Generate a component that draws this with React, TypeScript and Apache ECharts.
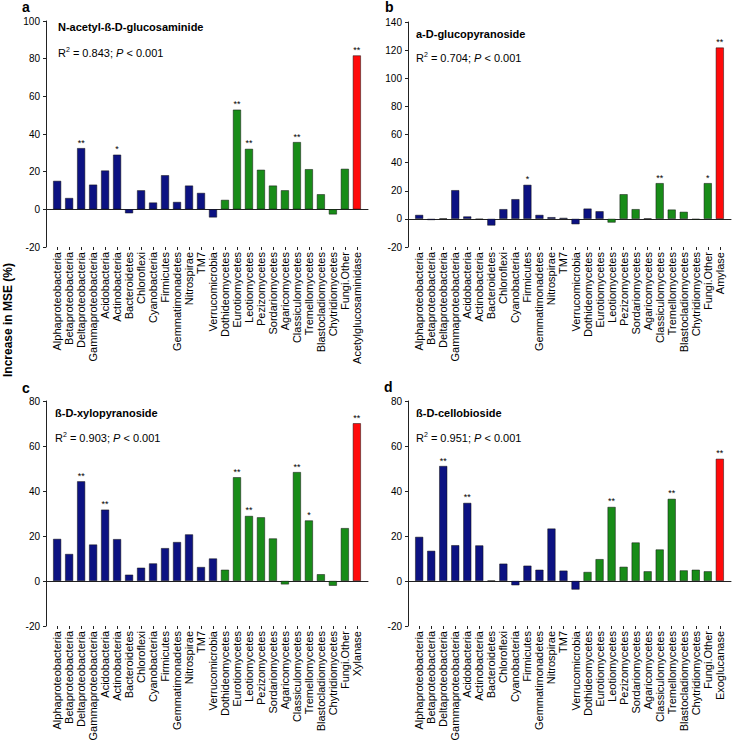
import React, { useEffect, useRef } from 'react';
import * as echarts from 'echarts';

// ---------- data ----------
const taxa = [
  'Alphaproteobacteria', 'Betaproteobacteria', 'Deltaproteobacteria', 'Gammaproteobacteria',
  'Acidobacteria', 'Actinobacteria', 'Bacteroidetes', 'Chloroflexi', 'Cyanobacteria',
  'Firmicutes', 'Gemmatimonadetes', 'Nitrospirae', 'TM7', 'Verrucomicrobia',
  'Dothideomycetes', 'Eurotiomycetes', 'Leotiomycetes', 'Pezizomycetes', 'Sordariomycetes',
  'Agaricomycetes', 'Classiculomycetes', 'Tremellomycetes', 'Blastocladiomycetes',
  'Chytridiomycetes', 'Fungi.Other',
];
const enzymes = ['Acetylglucosaminidase', 'Amylase', 'Xylanase', 'Exoglucanase'];
const substrates = ['N-acetyl-ß-D-glucosaminide', 'a-D-glucopyranoside', 'ß-D-xylopyranoside', 'ß-D-cellobioside'];
const r2Values = ['0.843', '0.704', '0.903', '0.951'];
const panelLetters = ['a', 'b', 'c', 'd'];
const yTicksMin = [-20, -20, -20, -20];
const yTicksMax = [100, 140, 80, 80];

const valuesA = [15.1, 6.0, 32.5, 13.1, 20.6, 29.0, -2.1, 10.1, 3.6, 18.1, 3.9, 12.6, 8.7, -4.3, 5.0, 52.9, 32.1, 21.0, 12.6, 10.1, 35.7, 21.3, 8.0, -2.7, 21.5, 81.7];
const valuesB = [2.8, -0.8, 0.3, 20.4, 1.7, -0.3, -4.7, 6.9, 14.0, 24.2, 2.8, 1.2, 0.7, -3.8, 7.3, 5.4, -2.6, 17.5, 6.9, 0.3, 25.4, 6.6, 5.0, -0.5, 25.4, 121.8];
const valuesC = [18.7, 12.0, 44.3, 16.2, 31.7, 18.6, 2.8, 5.9, 7.8, 14.6, 17.3, 20.7, 6.2, 10.0, 5.0, 46.1, 28.9, 28.3, 18.9, -1.5, 48.4, 26.9, 3.0, -2.1, 23.5, 70.1];
const valuesD = [19.6, 13.4, 51.1, 15.9, 34.7, 15.8, 0.2, 7.7, -1.9, 6.8, 5.0, 23.3, 4.6, -3.8, 4.0, 9.7, 32.9, 6.3, 17.1, 4.3, 14.0, 36.5, 4.7, 5.0, 4.3, 54.3];

const marksA = ['', '', '**', '', '', '*', '', '', '', '', '', '', '', '', '', '**', '**', '', '', '', '**', '', '', '', '', '**'];
const marksB = ['', '', '', '', '', '', '', '', '', '*', '', '', '', '', '', '', '', '', '', '', '**', '', '', '', '*', '**'];
const marksC = ['', '', '**', '', '**', '', '', '', '', '', '', '', '', '', '', '**', '**', '', '', '', '**', '*', '', '', '', '**'];
const marksD = ['', '', '**', '', '**', '', '', '', '', '', '', '', '', '', '', '', '**', '', '', '', '', '**', '', '', '', '**'];

// group of each bar: B = bacteria, F = fungi, E = enzyme
const groupsA = ['B','B','B','B','B','B','B','B','B','B','B','B','B','B','F','F','F','F','F','F','F','F','F','F','F','E'];
const groupsB = ['B','B','B','B','B','B','B','B','B','B','B','B','B','B','B','B','F','F','F','F','F','F','F','F','F','E'];
const groupsC = groupsA;
const groupsD = groupsA;

const groupColors: Record<string, string> = { B: '#0c1282', F: '#188c18', E: '#ff0a0a' };

// ---------- layout ----------
const FONT = '"Liberation Sans", Arial, sans-serif';
const layout = [
  { left: 46, top: 21, height: 226, right: 368, titleTop: 20, r2Top: 46, textLeft: 58, letterX: 22, letterY: 0 },
  { left: 408, top: 22, height: 225, right: 731, titleTop: 27, r2Top: 51, textLeft: 416, letterX: 385, letterY: 0 },
  { left: 46, top: 401, height: 225, right: 368, titleTop: 406, r2Top: 431, textLeft: 55, letterX: 22, letterY: 381 },
  { left: 408, top: 401, height: 225, right: 731, titleTop: 406, r2Top: 431, textLeft: 416, letterX: 384, letterY: 380 },
];
const X_MIN = -0.93;
const X_MAX = 25.93;

function buildOption() {
  const valueSets = [valuesA, valuesB, valuesC, valuesD];
  const markSets = [marksA, marksB, marksC, marksD];
  const groupSets = [groupsA, groupsB, groupsC, groupsD];
  const idx = taxa.map((_, i) => i).concat([taxa.length]);

  const grid: any[] = [];
  const xAxis: any[] = [];
  const yAxis: any[] = [];
  const series: any[] = [];
  const title: any[] = [];

  layout.forEach((L, p) => {
    const cats = taxa.concat([enzymes[p]]);
    grid.push({ left: L.left, top: L.top, width: L.right - L.left, height: L.height, containLabel: false });
    xAxis.push({
      gridIndex: p, type: 'value', min: X_MIN, max: X_MAX,
      axisLine: { show: true, onZero: true, lineStyle: { color: '#222', width: 1 } },
      axisTick: { show: false }, axisLabel: { show: false }, splitLine: { show: false },
    });
    xAxis.push({
      gridIndex: p, type: 'value', min: X_MIN, max: X_MAX, position: 'bottom',
      axisLine: { show: false, onZero: false },
      axisTick: { show: true, customValues: idx, length: 3, lineStyle: { color: '#222' } },
      axisLabel: {
        show: true, customValues: idx, rotate: 90, margin: 5,
        fontSize: 11, fontFamily: FONT, color: '#000',
        formatter: (v: number) => cats[Math.round(v)] ?? '',
      },
      splitLine: { show: false },
    });
    yAxis.push({
      gridIndex: p, type: 'value', min: yTicksMin[p], max: yTicksMax[p], interval: 20,
      axisLine: { show: true, onZero: false, lineStyle: { color: '#222', width: 1 } },
      axisTick: { show: true, length: 3, lineStyle: { color: '#222' } },
      axisLabel: { fontSize: 10, fontFamily: FONT, color: '#000', margin: 6 },
      splitLine: { show: false },
    });
    const vals = valueSets[p];
    const marks = markSets[p];
    const groups = groupSets[p];
    series.push({
      type: 'bar', xAxisIndex: 2 * p, yAxisIndex: p, barWidth: 8,
      data: vals.map((v, j) => ({
        value: [j, v],
        itemStyle: { color: groupColors[groups[j]], borderColor: '#111', borderWidth: 0.5 },
      })),
      label: {
        show: true, position: 'top', distance: 1, fontSize: 9, fontFamily: FONT, color: '#000',
        formatter: (prm: any) => marks[prm.dataIndex],
      },
    });
    title.push({
      left: L.textLeft, top: L.titleTop, padding: 0, text: substrates[p],
      textStyle: { fontSize: 11, fontWeight: 'bold', fontFamily: FONT, color: '#000', lineHeight: 13 },
    });
    title.push({
      left: L.textLeft, top: L.r2Top, padding: 0,
      text: `{t|R}{s|2}{t| = ${r2Values[p]}; }{i|P}{t| < 0.001}`,
      textStyle: {
        fontFamily: FONT, color: '#000', fontWeight: 'normal',
        rich: {
          t: { fontSize: 11, fontFamily: FONT, color: '#000', fontWeight: 'normal', lineHeight: 14 },
          s: { fontSize: 7, fontFamily: FONT, color: '#000', fontWeight: 'normal', lineHeight: 8, verticalAlign: 'top' },
          i: { fontSize: 11, fontFamily: FONT, color: '#000', fontWeight: 'normal', fontStyle: 'italic', lineHeight: 14 },
        },
      },
    });
  });

  const graphic: any[] = layout.map((L, p) => ({
    type: 'text', x: L.letterX, y: L.letterY,
    style: { text: panelLetters[p], font: `bold 14px ${FONT}`, fill: '#000', align: 'left', verticalAlign: 'top' },
  }));
  graphic.push({
    type: 'text', x: 8, y: 320, rotation: Math.PI / 2,
    style: { text: 'Increase in MSE (%)', font: `bold 12px ${FONT}`, fill: '#000', align: 'center', verticalAlign: 'middle' },
  });

  return { animation: false, backgroundColor: '#fff', grid, xAxis, yAxis, series, title, graphic };
}

export default function App() {
  const ref = useRef<HTMLDivElement>(null);
  useEffect(() => {
    if (!ref.current) return;
    const chart = echarts.init(ref.current, undefined, { renderer: 'svg' });
    chart.setOption(buildOption() as any);
    return () => chart.dispose();
  }, []);
  return <div ref={ref} style={{ position: 'absolute', left: 0, top: 0, width: 733, height: 744 }} />;
}
